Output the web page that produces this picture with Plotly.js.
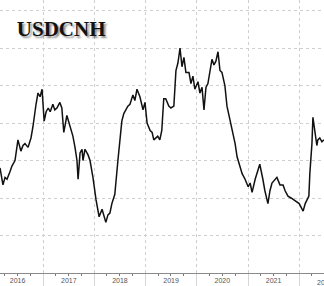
<!DOCTYPE html>
<html>
<head>
<meta charset="utf-8">
<script src="https://cdn.plot.ly/plotly-3.0.1.min.js"></script>
<style>html,body{margin:0;padding:0;background:#fff;}#chart{width:324px;height:286px;}</style>
</head>
<body>
<div id="chart"></div>
<script>
const dates = [
"2016-02-28","2016-03-20","2016-04-04","2016-04-18","2016-05-09","2016-05-23","2016-06-14","2016-07-05","2016-07-26","2016-08-10",
"2016-08-24","2016-09-15","2016-10-06","2016-10-20","2016-11-11","2016-11-25","2016-12-10","2016-12-24","2017-01-08","2017-01-22",
"2017-02-06","2017-02-20","2017-03-11","2017-03-25","2017-04-09","2017-04-30","2017-05-14","2017-05-28","2017-06-19","2017-07-10",
"2017-08-01","2017-08-16","2017-08-30","2017-09-07","2017-09-21","2017-10-05","2017-10-12","2017-10-26","2017-11-17","2017-12-01",
"2017-12-22","2018-01-13","2018-01-27","2018-02-04","2018-02-25","2018-03-10","2018-03-24","2018-04-08","2018-04-22","2018-05-06",
"2018-05-27","2018-06-18","2018-07-02","2018-07-16","2018-07-30","2018-08-14","2018-08-28","2018-09-12","2018-10-03","2018-10-17",
"2018-11-01","2018-11-22","2018-12-14","2018-12-28","2019-01-12","2019-02-03","2019-02-17","2019-03-01","2019-03-15","2019-03-29",
"2019-04-13","2019-04-27","2019-05-11","2019-05-25","2019-06-16","2019-07-01","2019-07-22","2019-08-06","2019-08-20","2019-09-04",
"2019-09-18","2019-10-02","2019-10-16","2019-11-07","2019-11-21","2019-12-05","2019-12-19","2020-01-10","2020-01-24","2020-02-08",
"2020-02-22","2020-03-07","2020-03-21","2020-04-05","2020-04-19","2020-05-03","2020-05-17","2020-06-01","2020-06-15","2020-06-29",
"2020-07-20","2020-08-04","2020-08-25","2020-09-16","2020-10-01","2020-10-15","2020-11-06","2020-11-20","2020-12-11","2021-01-02",
"2021-01-16","2021-01-30","2021-02-21","2021-03-12","2021-03-26","2021-04-17","2021-05-01","2021-05-23","2021-06-07","2021-06-21",
"2021-07-12","2021-07-26","2021-08-17","2021-09-08","2021-09-22","2021-10-13","2021-11-04","2021-11-25","2021-12-16","2022-01-01",
"2022-01-15","2022-01-29","2022-02-13","2022-02-27","2022-03-11","2022-03-18","2022-04-02","2022-04-09","2022-04-23","2022-05-07",
"2022-05-14","2022-05-28","2022-06-12","2022-06-26"
];
const usdcnh = [
6.56,6.47,6.51,6.50,6.54,6.57,6.60,6.71,6.65,6.68,
6.69,6.67,6.72,6.78,6.90,6.96,6.94,6.98,6.81,6.86,
6.88,6.86,6.90,6.87,6.88,6.91,6.88,6.75,6.84,6.78,
6.73,6.67,6.60,6.50,6.64,6.66,6.60,6.66,6.63,6.60,
6.51,6.39,6.34,6.30,6.34,6.30,6.27,6.31,6.32,6.37,
6.42,6.60,6.71,6.81,6.85,6.87,6.89,6.90,6.95,6.92,
6.98,6.94,6.87,6.91,6.80,6.76,6.75,6.71,6.72,6.73,
6.71,6.76,6.93,6.93,6.89,6.88,6.89,7.08,7.12,7.20,
7.10,7.15,7.07,7.07,7.01,7.05,6.98,7.02,6.96,6.99,
6.87,6.99,7.01,7.08,7.14,7.11,7.13,7.18,7.08,7.07,
7.00,6.89,6.82,6.75,6.69,6.62,6.57,6.53,6.50,6.46,
6.48,6.43,6.50,6.55,6.58,6.50,6.44,6.37,6.44,6.48,
6.50,6.51,6.47,6.47,6.44,6.41,6.40,6.39,6.38,6.37,
6.35,6.33,6.37,6.39,6.41,6.53,6.69,6.83,6.75,6.68,
6.71,6.72,6.70,6.71
];
const chartTitle = "USDCNH";
const partialYearLabel = "2022";

const tickFont = {family: "Liberation Sans, Arial, sans-serif", size: 7, color: "#555"};
const trace = {
  x: dates, y: usdcnh, type: "scatter", mode: "lines",
  line: {color: "#111", width: 1.5}, hoverinfo: "skip"
};
const layout = {
  width: 324, height: 286,
  margin: {l: 0, r: 0, t: 0, b: 13, pad: 0},
  paper_bgcolor: "#fff", plot_bgcolor: "#fff",
  showlegend: false,
  title: {
    text: chartTitle, xref: "paper", yref: "container",
    x: 0.052, xanchor: "left", y: 0.899, yanchor: "middle",
    font: {family: "Liberation Serif, Times New Roman, serif", size: 21, weight: "bold", color: "#111",
           shadow: "2px 2px 2px rgba(0,0,0,0.45)"}
  },
  xaxis: {
    type: "date", range: ["2016-02-28", "2022-06-27"],
    tick0: "2016-01-01", dtick: "M12", tickformat: "%Y", ticklabelmode: "period",
    showgrid: true, gridcolor: "#cfcfcf", griddash: "dot", gridwidth: 1,
    ticks: "outside", ticklen: 13, tickcolor: "#d6d6d6", tickwidth: 1,
    ticklabelstandoff: -12,
    showline: true, linecolor: "#8a8a8a", linewidth: 1,
    minor: {dtick: "M3", tick0: "2016-01-01", ticks: "outside", ticklen: 2, tickcolor: "#777", showgrid: false},
    tickfont: tickFont,
    zeroline: false, fixedrange: true
  },
  yaxis: {
    range: [6.0, 7.456], dtick: 0.2, tick0: 6.0,
    showgrid: true, gridcolor: "#cfcfcf", griddash: "dot", gridwidth: 1,
    showticklabels: false, ticks: "", zeroline: false, showline: false, fixedrange: true
  },
  annotations: [{
    text: partialYearLabel, xref: "paper", yref: "paper",
    x: 1.003, y: -0.033, xanchor: "center", yanchor: "middle",
    showarrow: false, font: tickFont
  }]
};
Plotly.newPlot("chart", [trace], layout, {staticPlot: true, displayModeBar: false});
</script>
</body>
</html>
